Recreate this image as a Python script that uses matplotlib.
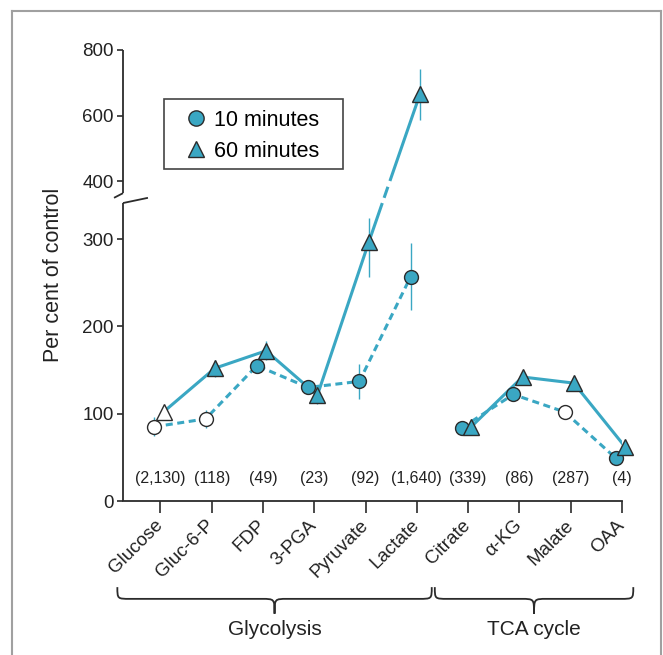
import numpy as np
import matplotlib
matplotlib.use('Agg')
import matplotlib.pyplot as plt
from matplotlib.path import Path
from matplotlib.patches import PathPatch, Rectangle
from matplotlib.lines import Line2D

plt.rcParams['font.family'] = ['Liberation Sans', 'DejaVu Sans']

metabolites = ['Glucose', 'Gluc-6-P', 'FDP', '3-PGA', 'Pyruvate', 'Lactate',
               'Citrate', 'α-KG', 'Malate', 'OAA']
control_levels = ['(2,130)', '(118)', '(49)', '(23)', '(92)', '(1,640)',
                  '(339)', '(86)', '(287)', '(4)']

# per cent of control after 10 and 60 minutes
min10 = [85, 94, 155, 130, 137, 257, 84, 122, 102, 49]
min10_err = [11, 10, 8, 8, 20, 38, 6, 8, 0, 4]
min10_open = [True, True, False, False, False, False, False, False, True, False]

min60 = [102, 152, 172, 121, 296, 665, 85, 142, 135, 62]
min60_err = [3, 10, 11, 10, 40, 78, 6, 5, 5, 4]
min60_open = [True, False, False, False, False, False, False, False, False, False]

groups = ['Glycolysis', 'TCA cycle']
group_members = [range(0, 6), range(6, 10)]
group_spans = [(-0.84, 5.29), (5.35, 9.22)]

yticks = [0, 100, 200, 300, 400, 600, 800]

teal = '#3aa7c3'
dark = '#2b2b2b'
txt = '#222222'

# broken y axis: 0-300 stretched, 400-800 compressed
val_pts = [-100, 0, 300, 400, 800, 1000]
pix_pts = [-87.3, 0, 262, 320, 451, 516.5]


def fwd(v):
    return np.interp(v, val_pts, pix_pts)


def inv(p):
    return np.interp(p, pix_pts, val_pts)


def brace(ax, x0, x1, label):
    tr = ax.get_xaxis_transform()
    top, mid, tip = -0.191, -0.217, -0.250
    xm = (x0 + x1) / 2
    r = 0.25
    verts = [(x0, top), (x0, mid), (x0, mid), (x0 + r, mid),
             (xm - r, mid),
             (xm, mid), (xm, mid), (xm, tip),
             (xm, mid), (xm, mid), (xm + r, mid),
             (x1 - r, mid),
             (x1, mid), (x1, mid), (x1, top)]
    codes = [Path.MOVETO, Path.CURVE4, Path.CURVE4, Path.CURVE4,
             Path.LINETO,
             Path.CURVE4, Path.CURVE4, Path.CURVE4,
             Path.CURVE4, Path.CURVE4, Path.CURVE4,
             Path.LINETO,
             Path.CURVE4, Path.CURVE4, Path.CURVE4]
    ax.add_patch(PathPatch(Path(verts, codes), transform=tr, fill=False,
                           edgecolor=dark, lw=1.3, clip_on=False))
    ax.text(xm, -0.286, label, transform=tr, ha='center', va='center',
            fontsize=15, color=txt)


def draw_series(ax, xs, ys, errs, is_open, marker, ms, ls, z):
    xs = np.asarray(xs, dtype=float)
    ys = np.asarray(ys, dtype=float)
    errs = np.asarray(errs, dtype=float)
    is_open = np.asarray(is_open)
    ax.vlines(xs, ys - errs, ys + errs, color=teal, lw=1.0, zorder=1)
    for idx in group_members:
        idx = list(idx)
        ax.plot(xs[idx], ys[idx], ls=ls, color=teal, lw=2.2, zorder=z)
    ax.plot(xs[~is_open], ys[~is_open], marker, ms=ms, mfc=teal, mec=dark,
            mew=1.0, ls='none', zorder=z + 3, clip_on=False)
    ax.plot(xs[is_open], ys[is_open], marker, ms=ms, mfc='white', mec=dark,
            mew=1.0, ls='none', zorder=z + 3, clip_on=False)
    return xs


def plotting():
    fig = plt.figure(figsize=(6.63, 6.55), dpi=100)
    ax = fig.add_axes([123 / 663, 1 - 501 / 655, 499 / 663, 451 / 655])
    ax.set_yscale('function', functions=(fwd, inv))
    ax.set_ylim(0, 800)
    ax.set_xlim(-0.73, 9.0)

    x = np.arange(len(metabolites))

    draw_series(ax, x - 0.12, min10, min10_err, min10_open, 'o', 10,
                (0, (2.3, 1.5)), 2)
    x60 = draw_series(ax, x + 0.06, min60, min60_err, min60_open, '^', 11,
                      '-', 3)

    # little gaps where the Lactate line crosses the axis break
    p0, p1 = fwd(min60[4]), fwd(min60[5])
    for lo, hi in [(362, 371), (390, 400)]:
        xs = [x60[4] + (fwd(v) - p0) / (p1 - p0) * (x60[5] - x60[4])
              for v in (lo, hi)]
        ax.plot(xs, [lo, hi], color='white', lw=4, zorder=4.5,
                solid_capstyle='butt')

    for i, lab in enumerate(control_levels):
        ax.text(i, 26, lab, ha='center', va='center', fontsize=11.5,
                color=txt)

    # axes
    for s in ['top', 'right', 'left']:
        ax.spines[s].set_visible(False)
    ax.spines['bottom'].set_color(dark)
    ax.spines['bottom'].set_linewidth(1.3)
    yt = ax.get_yaxis_transform()
    kw = dict(transform=yt, color=dark, lw=1.3, clip_on=False,
              solid_capstyle='butt')
    ax.plot([0, 0], [0, 362], **kw)
    ax.plot([0, 0], [379, 800], **kw)
    ax.plot([-0.018, 0], [371, 379], **kw)
    ax.plot([0, 0.05], [362, 371], **kw)

    ax.set_yticks(yticks)
    ax.set_yticklabels([str(t) for t in yticks])
    ax.yaxis.set_minor_locator(matplotlib.ticker.NullLocator())
    ax.tick_params(axis='y', length=4.5, width=1.2, color=dark,
                   labelsize=13.5, labelcolor=txt, pad=2)

    ax.set_xticks(x)
    ax.set_xticklabels(metabolites, rotation=45, ha='right', va='center',
                       rotation_mode='anchor')
    ax.tick_params(axis='x', length=8.6, width=1.2, color=dark,
                   labelsize=13.5, labelcolor=txt, pad=7)

    fig.text(54 / 663, 1 - 275 / 655, 'Per cent of control', rotation=90,
             ha='center', va='center', fontsize=15.5, color=txt)

    for (x0, x1), g in zip(group_spans, groups):
        brace(ax, x0, x1, g)

    handles = [Line2D([], [], marker='o', ls='none', ms=11, mfc=teal,
                      mec=dark, mew=1.0),
               Line2D([], [], marker='^', ls='none', ms=11, mfc=teal,
                      mec=dark, mew=1.0)]
    ax.legend(handles, ['10 minutes', '60 minutes'], loc='upper left',
              bbox_to_anchor=(185 / 663, 1 - 110 / 655),
              bbox_transform=fig.transFigure, fontsize=15.5, frameon=False,
              handlelength=1.0, handletextpad=0.35, borderpad=0,
              labelspacing=0.45, borderaxespad=0)
    fig.add_artist(Rectangle((164 / 663, 1 - 169 / 655), 179 / 663, 70 / 655,
                             transform=fig.transFigure, fill=False,
                             edgecolor='#444444', lw=1.2))

    # light grey panel frame
    fc = '#a0a0a0'
    fig.add_artist(Line2D([12 / 663, 12 / 663], [0, 1 - 11 / 655],
                          transform=fig.transFigure, color=fc, lw=1.5))
    fig.add_artist(Line2D([12 / 663, 661 / 663], [1 - 11 / 655, 1 - 11 / 655],
                          transform=fig.transFigure, color=fc, lw=1.5))
    fig.add_artist(Line2D([661 / 663, 661 / 663], [0, 1 - 11 / 655],
                          transform=fig.transFigure, color=fc, lw=1.5))

    fig.savefig('out.png', dpi=100)


if __name__ == "__main__":
    plotting()
